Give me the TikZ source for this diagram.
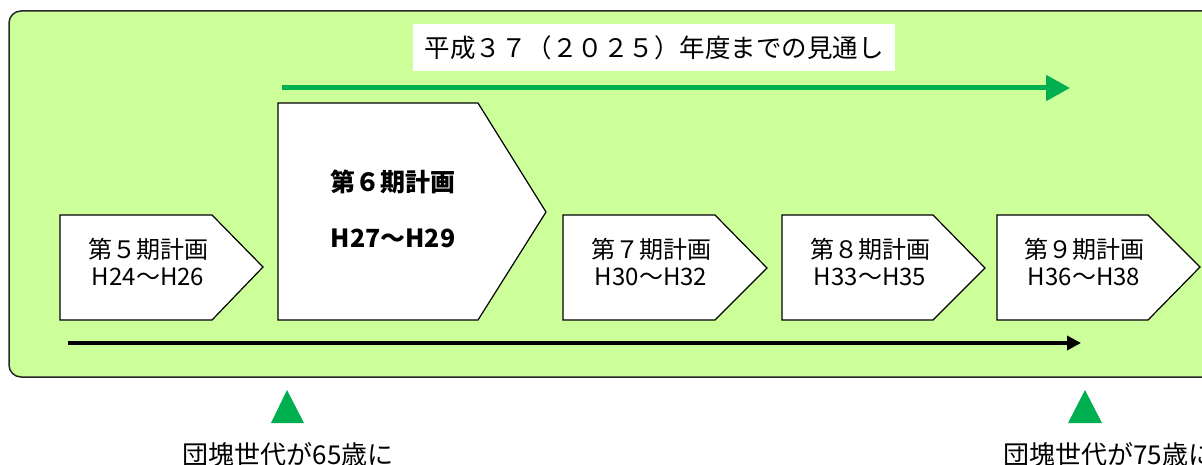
\documentclass[tikz,border=0pt]{standalone}
\usepackage{fontspec}
\setmainfont{Noto Sans CJK JP}
\usetikzlibrary{arrows.meta}
\definecolor{bggreen}{RGB}{204,255,153}
\definecolor{arrgreen}{RGB}{0,176,80}
\tikzset{
  plan/.style={draw=black, line width=1.2pt, fill=white, line join=miter},
  plantext/.style={align=center, inner sep=0pt, font=\fontsize{24}{27}\selectfont},
  bigtext/.style={align=center, inner sep=0pt, font=\fontsize{25}{56}\selectfont\bfseries},
  note/.style={inner sep=0pt, font=\fontsize{26}{28}\selectfont},
  mark triangle/.style={fill=arrgreen, draw=none}
}
\begin{document}
\begin{tikzpicture}[x=1pt,y=-1pt]
\useasboundingbox (0,0) rectangle (1202,465);
\clip (0,0) rectangle (1202,465);
% background panel
\draw[fill=bggreen, draw=black!85, line width=1.5pt, rounded corners=12pt] (9,11) rectangle (1230,377);
% title
\node[fill=white, minimum width=482pt, minimum height=47pt, inner sep=0pt,
      font=\fontsize{25.5}{28}\selectfont] (title) at (654,47.5) {平成３７（２０２５）年度までの見通し};
% green arrow
\coordinate (ga) at (282,88);
\coordinate (gb) at (1070,88);
\draw[arrgreen, line width=5pt, -{Triangle[length=24pt,width=25pt]}] (ga) -- (gb);
% plan boxes
\draw[plan] (60,215) -- (212,215) -- (263,267) -- (212,320) -- (60,320) -- cycle;
\draw[plan] (278,103) -- (478,103) -- (546,212) -- (478,320) -- (278,320) -- cycle;
\draw[plan] (563,215) -- (715,215) -- (767,268) -- (715,320) -- (563,320) -- cycle;
\draw[plan] (782,215) -- (933,215) -- (985,268) -- (933,320) -- (782,320) -- cycle;
\draw[plan] (997,215) -- (1148,215) -- (1200,267) -- (1148,320) -- (997,320) -- cycle;
\node[plantext] (p5) at (148,262) {第５期計画\\H24～H26};
\node[bigtext] (p6) at (393,209) {第６期計画\\H27～H29};
\node[plantext] (p7) at (651,262) {第７期計画\\H30～H32};
\node[plantext] (p8) at (870,262) {第８期計画\\H33～H35};
\node[plantext] (p9) at (1084,262) {第９期計画\\H36～H38};
% black arrow
\coordinate (ba) at (68,343);
\coordinate (bb) at (1081,343);
\draw[black, line width=4pt, -{Triangle[length=14pt,width=14pt]}] (ba) -- (bb);
% triangles
\fill[mark triangle] (287,390) -- (304,423) -- (271,423) -- cycle;
\fill[mark triangle] (1085,390) -- (1102,423) -- (1068,423) -- cycle;
\node[note, anchor=base] (n65) at (288,464) {団塊世代が65歳に};
\node[note, anchor=base west] (n75) at (1003,464) {団塊世代が75歳に};
\end{tikzpicture}
\end{document}
